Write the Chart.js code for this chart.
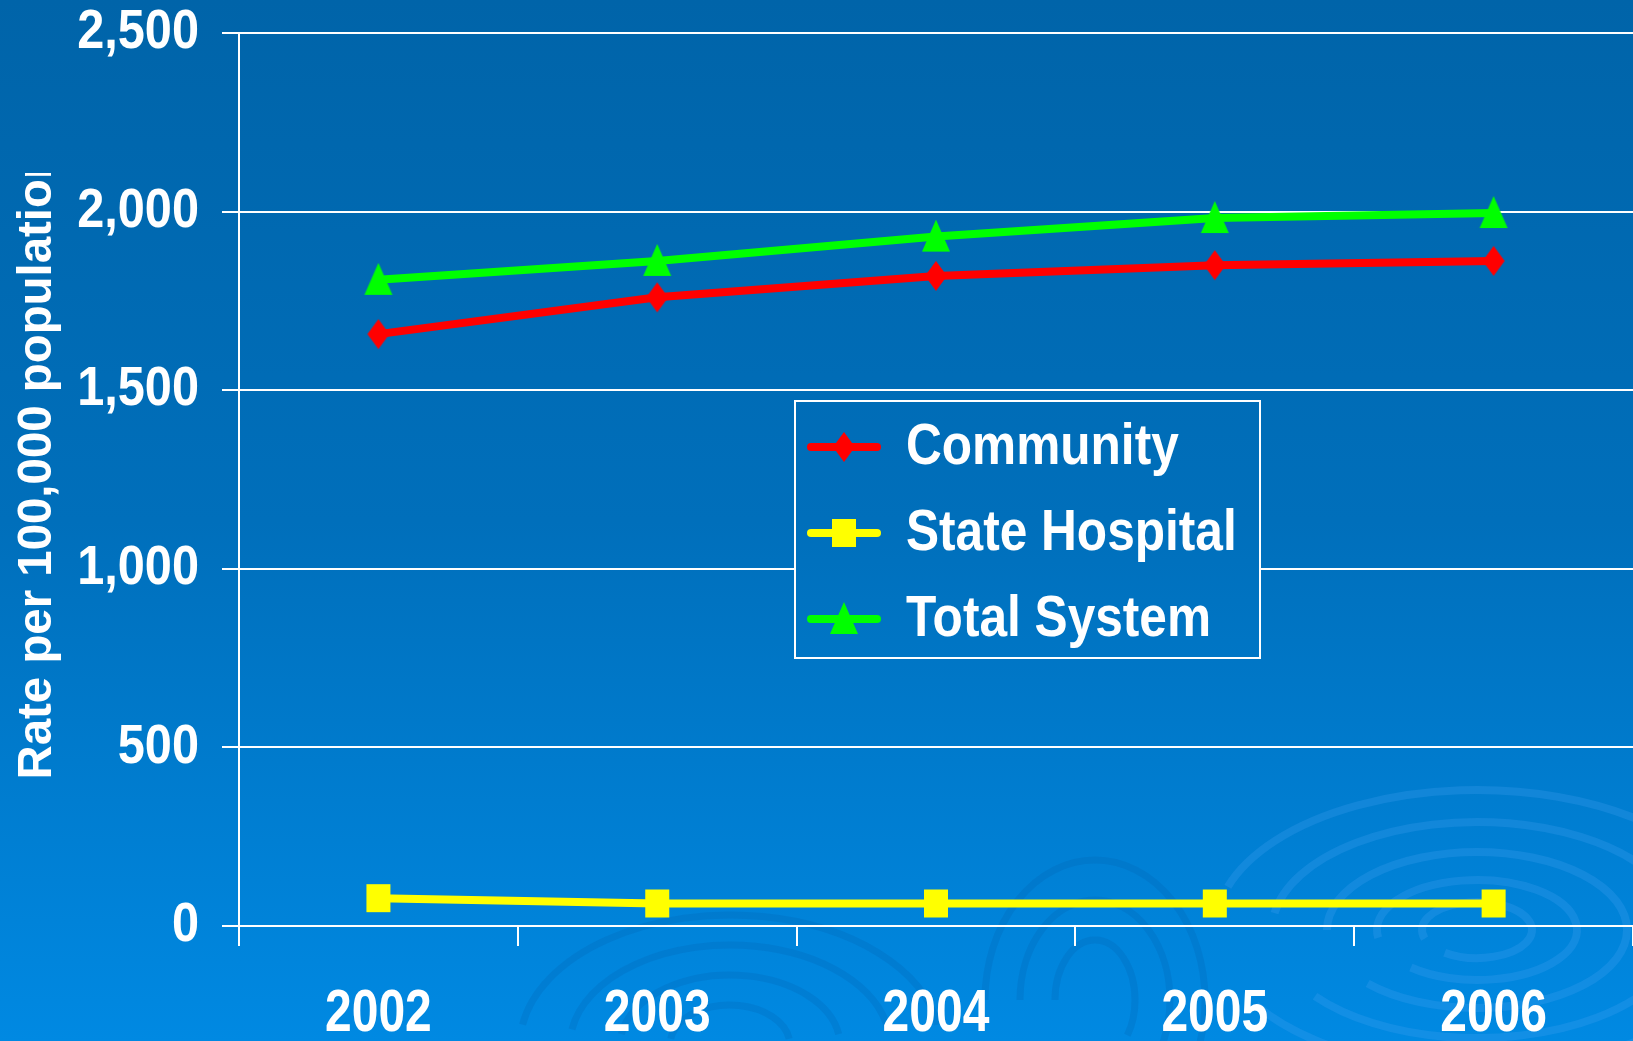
<!DOCTYPE html>
<html>
<head>
<meta charset="utf-8">
<script src="https://cdn.jsdelivr.net/npm/chart.js@4.4.0/dist/chart.umd.min.js"></script>
<style>
  html, body { margin: 0; padding: 0; background: #0077c6; overflow: hidden; }
</style>
</head>
<body>
<canvas id="rateChart" width="1633" height="1041"></canvas>
<script>
// data
const years = ['2002', '2003', '2004', '2005', '2006'];
const community = [1657, 1760, 1820, 1850, 1862];
const stateHospital = [78, 63, 63, 63, 63];
const totalSystem = [1809, 1862, 1930, 1982, 1996];
const yTicks = [0, 500, 1000, 1500, 2000, 2500];
const seriesNames = ['Community', 'State Hospital', 'Total System'];
const seriesColors = ['#ff0000', '#ffff00', '#00ff00'];
const seriesShapes = ['diamond', 'square', 'triangle'];
const yTitle = 'Rate per 100,000 population';

const FONT = "'Liberation Sans', Arial, sans-serif";

function bgGradient(ctx, h) {
    const g = ctx.createLinearGradient(0, 0, 0, h);
    g.addColorStop(0, '#0064a9');
    g.addColorStop(0.5, '#006fbb');
    g.addColorStop(1, '#0089e2');
    return g;
}

// the slide font is a squeezed Arial, so text gets drawn with a horizontal scale
function squeezedText(ctx, text, x, y, squeeze, align) {
    ctx.save();
    ctx.translate(x, y);
    ctx.scale(squeeze, 1);
    ctx.textAlign = align;
    ctx.fillText(text, 0, 0);
    ctx.restore();
}

// marker shapes are a bit taller than wide in the original, so draw them into small canvases
function drawShape(ctx, shape, cx, cy, color) {
    ctx.fillStyle = color;
    ctx.beginPath();
    if (shape === 'diamond') {
        ctx.moveTo(cx, cy - 15);
        ctx.lineTo(cx + 11, cy);
        ctx.lineTo(cx, cy + 15);
        ctx.lineTo(cx - 11, cy);
    } else if (shape === 'square') {
        ctx.rect(cx - 12, cy - 14, 24, 28);
    } else {
        ctx.moveTo(cx, cy - 17);
        ctx.lineTo(cx + 14, cy + 15);
        ctx.lineTo(cx - 14, cy + 15);
    }
    ctx.closePath();
    ctx.fill();
}

function makeMarker(shape, color) {
    const c = document.createElement('canvas');
    c.width = 30;
    c.height = 34;
    drawShape(c.getContext('2d'), shape, 15, 17, color);
    return c;
}

function makeLegendIcon(shape, color) {
    const c = document.createElement('canvas');
    c.width = 76;
    c.height = 36;
    const ctx = c.getContext('2d');
    ctx.strokeStyle = color;
    ctx.lineWidth = 8;
    ctx.lineCap = 'round';
    ctx.beginPath();
    ctx.moveTo(5, 18);
    ctx.lineTo(71, 18);
    ctx.stroke();
    drawShape(ctx, shape, 38, 18, color);
    return c;
}

const seriesData = [community, stateHospital, totalSystem];

const datasets = seriesNames.map(function(name, i) {
    return {
        label: name,
        data: seriesData[i],
        borderColor: seriesColors[i],
        backgroundColor: seriesColors[i],
        borderWidth: 8,
        tension: 0,
        pointStyle: makeMarker(seriesShapes[i], seriesColors[i]),
        pointRadius: 12,
        pointHoverRadius: 12,
        legendIcon: makeLegendIcon(seriesShapes[i], seriesColors[i])
    };
});

const backgroundPlugin = {
    id: 'slideBackground',
    beforeDraw(chart) {
        const ctx = chart.ctx;
        const { width, height } = chart;
        ctx.save();
        ctx.fillStyle = bgGradient(ctx, height);
        ctx.fillRect(0, 0, width, height);

        // faint water ripples in the bottom right corner
        ctx.lineWidth = 8;
        ctx.strokeStyle = 'rgba(70, 165, 245, 0.25)';
        const rings = [[55, 28], [100, 50], [150, 78], [205, 108], [262, 140]];
        rings.forEach(function(r, k) {
            ctx.beginPath();
            ctx.ellipse(1477, 930, r[0], r[1], 0, Math.PI * (0.9 + k * 0.05), Math.PI * (2.7 + k * 0.03));
            ctx.stroke();
        });
        ctx.strokeStyle = 'rgba(0, 95, 175, 0.22)';
        ctx.lineWidth = 7;
        [[40, 60], [75, 100], [110, 140]].forEach(function(r) {
            ctx.beginPath();
            ctx.ellipse(1095, 1000, r[0], r[1], 0, Math.PI * 1.0, Math.PI * 2.2);
            ctx.stroke();
        });
        [[60, 40], [110, 70], [160, 100], [210, 130]].forEach(function(r) {
            ctx.beginPath();
            ctx.ellipse(730, 1045, r[0], r[1], 0, Math.PI * 1.05, Math.PI * 1.95);
            ctx.stroke();
        });
        ctx.restore();
    }
};

const axisTextPlugin = {
    id: 'axisText',
    afterDraw(chart) {
        const ctx = chart.ctx;
        const xs = chart.scales.x;
        const ys = chart.scales.y;
        ctx.save();
        ctx.fillStyle = '#ffffff';
        ctx.textBaseline = 'middle';

        ctx.font = 'bold 55px ' + FONT;
        ys.ticks.forEach(function(t, i) {
            squeezedText(ctx, t.label, ys.right - 40, ys.getPixelForTick(i), 0.885, 'right');
        });

        ctx.font = 'bold 60px ' + FONT;
        xs.ticks.forEach(function(t, i) {
            squeezedText(ctx, t.label, xs.getPixelForTick(i), xs.top + 88, 0.8, 'center');
        });

        // axis title, cut off at the top like on the slide
        ctx.beginPath();
        ctx.rect(0, 173, ys.left + 120, chart.height);
        ctx.clip();
        ctx.font = 'bold 47.4px ' + FONT;
        ctx.textBaseline = 'alphabetic';
        ctx.translate(51, 779.5);
        ctx.rotate(-Math.PI / 2);
        ctx.textAlign = 'left';
        ctx.fillText(yTitle, 0, 0);
        ctx.restore();
    }
};

const boxLegendPlugin = {
    id: 'boxLegend',
    afterDatasetsDraw(chart) {
        const ctx = chart.ctx;
        const left = 795, top = 401, w = 465, h = 257;
        ctx.save();
        ctx.fillStyle = bgGradient(ctx, chart.height);
        ctx.fillRect(left, top, w, h);
        ctx.strokeStyle = '#ffffff';
        ctx.lineWidth = 2;
        ctx.strokeRect(left, top, w, h);

        ctx.font = 'bold 58px ' + FONT;
        ctx.fillStyle = '#ffffff';
        ctx.textBaseline = 'middle';
        chart.data.datasets.forEach(function(ds, i) {
            const rowY = 447 + i * 86;
            ctx.drawImage(ds.legendIcon, 844 - ds.legendIcon.width / 2, rowY - ds.legendIcon.height / 2);
            squeezedText(ctx, ds.label, 906, rowY + 1, 0.855, 'left');
        });
        ctx.restore();
    }
};

const ctx = document.getElementById('rateChart').getContext('2d');
window.rateChart = new Chart(ctx, {
    type: 'line',
    data: {
        labels: years,
        datasets: datasets
    },
    options: {
        responsive: false,
        animation: false,
        devicePixelRatio: 1,
        layout: { autoPadding: false, padding: { top: 33, right: 0, left: 0, bottom: 0 } },
        plugins: {
            legend: { display: false },
            tooltip: { enabled: false }
        },
        scales: {
            x: {
                offset: true,
                grid: {
                    offset: true,
                    drawOnChartArea: false,
                    drawTicks: true,
                    tickLength: 20,
                    color: '#ffffff',
                    lineWidth: 2
                },
                border: { color: '#ffffff', width: 2 },
                ticks: { display: false },
                afterFit: function(s) { s.height = 115; }
            },
            y: {
                min: 0,
                max: 2500,
                afterBuildTicks: function(s) {
                    s.ticks = yTicks.map(function(v) { return { value: v }; });
                },
                grid: {
                    color: '#ffffff',
                    lineWidth: 2,
                    tickLength: 17
                },
                border: { color: '#ffffff', width: 2 },
                ticks: { display: false },
                afterFit: function(s) { s.width = 239; }
            }
        }
    },
    plugins: [backgroundPlugin, axisTextPlugin, boxLegendPlugin]
});
</script>
</body>
</html>
